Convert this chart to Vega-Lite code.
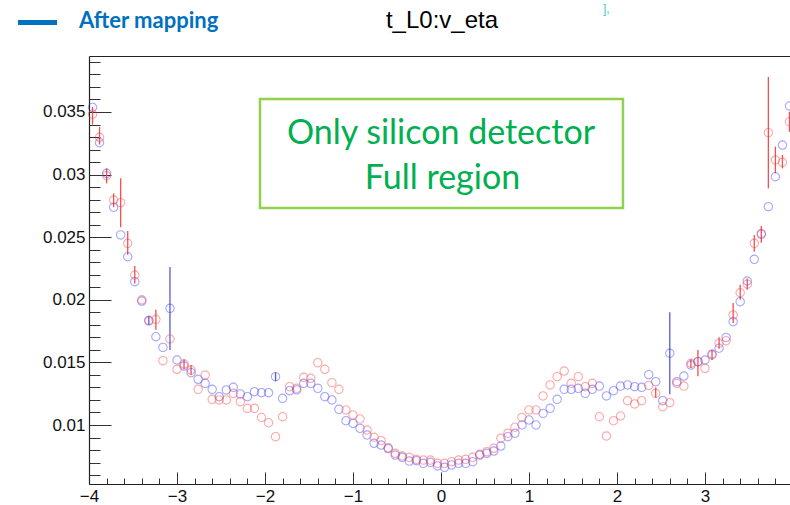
{
  "$schema": "https://vega.github.io/schema/vega-lite/v6.json",
  "width": 701,
  "height": 428,
  "autosize": {"type": "none"},
  "padding": {"left": 89, "top": 56, "right": 0, "bottom": 21},
  "background": "white",
  "config": {"view": {"stroke": null}, "font": "Liberation Sans"},
  "datasets": {
    "pts": [
      {"eta": -3.96, "series": "blue", "v": 0.03537},
      {"eta": -3.88, "series": "blue", "v": 0.03255},
      {"eta": -3.80, "series": "blue", "v": 0.03010},
      {"eta": -3.72, "series": "blue", "v": 0.02739},
      {"eta": -3.64, "series": "blue", "v": 0.02518},
      {"eta": -3.56, "series": "blue", "v": 0.02344},
      {"eta": -3.48, "series": "blue", "v": 0.02145},
      {"eta": -3.40, "series": "blue", "v": 0.01990},
      {"eta": -3.32, "series": "blue", "v": 0.01836, "lo": 0.0180, "hi": 0.0187},
      {"eta": -3.24, "series": "blue", "v": 0.01705},
      {"eta": -3.16, "series": "blue", "v": 0.01620},
      {"eta": -3.08, "series": "blue", "v": 0.01932, "lo": 0.01599, "hi": 0.02262},
      {"eta": -3.00, "series": "blue", "v": 0.01519},
      {"eta": -2.92, "series": "blue", "v": 0.01471},
      {"eta": -2.84, "series": "blue", "v": 0.01418},
      {"eta": -2.76, "series": "blue", "v": 0.01365},
      {"eta": -2.68, "series": "blue", "v": 0.01333},
      {"eta": -2.60, "series": "blue", "v": 0.01285},
      {"eta": -2.52, "series": "blue", "v": 0.01226},
      {"eta": -2.44, "series": "blue", "v": 0.01280},
      {"eta": -2.36, "series": "blue", "v": 0.01301},
      {"eta": -2.28, "series": "blue", "v": 0.01248},
      {"eta": -2.20, "series": "blue", "v": 0.01226},
      {"eta": -2.12, "series": "blue", "v": 0.01266},
      {"eta": -2.04, "series": "blue", "v": 0.01258},
      {"eta": -1.96, "series": "blue", "v": 0.01258},
      {"eta": -1.88, "series": "blue", "v": 0.01386, "lo": 0.0135, "hi": 0.0142},
      {"eta": -1.80, "series": "blue", "v": 0.01213},
      {"eta": -1.72, "series": "blue", "v": 0.01274},
      {"eta": -1.64, "series": "blue", "v": 0.01280},
      {"eta": -1.56, "series": "blue", "v": 0.01333},
      {"eta": -1.48, "series": "blue", "v": 0.01333},
      {"eta": -1.40, "series": "blue", "v": 0.01293},
      {"eta": -1.32, "series": "blue", "v": 0.01226},
      {"eta": -1.24, "series": "blue", "v": 0.01200},
      {"eta": -1.16, "series": "blue", "v": 0.01125},
      {"eta": -1.08, "series": "blue", "v": 0.01034},
      {"eta": -1.00, "series": "blue", "v": 0.01013},
      {"eta": -0.92, "series": "blue", "v": 0.00973},
      {"eta": -0.84, "series": "blue", "v": 0.00920},
      {"eta": -0.76, "series": "blue", "v": 0.00854},
      {"eta": -0.68, "series": "blue", "v": 0.00840},
      {"eta": -0.60, "series": "blue", "v": 0.00812},
      {"eta": -0.52, "series": "blue", "v": 0.00760},
      {"eta": -0.44, "series": "blue", "v": 0.00742},
      {"eta": -0.36, "series": "blue", "v": 0.00712},
      {"eta": -0.28, "series": "blue", "v": 0.00715},
      {"eta": -0.20, "series": "blue", "v": 0.00694},
      {"eta": -0.12, "series": "blue", "v": 0.00702},
      {"eta": -0.04, "series": "blue", "v": 0.00673},
      {"eta": 0.04, "series": "blue", "v": 0.00662},
      {"eta": 0.12, "series": "blue", "v": 0.00681},
      {"eta": 0.20, "series": "blue", "v": 0.00694},
      {"eta": 0.28, "series": "blue", "v": 0.00694},
      {"eta": 0.36, "series": "blue", "v": 0.00707},
      {"eta": 0.44, "series": "blue", "v": 0.00760},
      {"eta": 0.52, "series": "blue", "v": 0.00774},
      {"eta": 0.60, "series": "blue", "v": 0.00792},
      {"eta": 0.68, "series": "blue", "v": 0.00832},
      {"eta": 0.76, "series": "blue", "v": 0.00907},
      {"eta": 0.84, "series": "blue", "v": 0.00934},
      {"eta": 0.92, "series": "blue", "v": 0.01000},
      {"eta": 1.00, "series": "blue", "v": 0.01040},
      {"eta": 1.08, "series": "blue", "v": 0.01000},
      {"eta": 1.16, "series": "blue", "v": 0.01093},
      {"eta": 1.24, "series": "blue", "v": 0.01133},
      {"eta": 1.32, "series": "blue", "v": 0.01205},
      {"eta": 1.40, "series": "blue", "v": 0.01285},
      {"eta": 1.48, "series": "blue", "v": 0.01285},
      {"eta": 1.56, "series": "blue", "v": 0.01293},
      {"eta": 1.64, "series": "blue", "v": 0.01253},
      {"eta": 1.72, "series": "blue", "v": 0.01285},
      {"eta": 1.80, "series": "blue", "v": 0.01311},
      {"eta": 1.88, "series": "blue", "v": 0.01232},
      {"eta": 1.96, "series": "blue", "v": 0.01274},
      {"eta": 2.04, "series": "blue", "v": 0.01311},
      {"eta": 2.12, "series": "blue", "v": 0.01320},
      {"eta": 2.20, "series": "blue", "v": 0.01306},
      {"eta": 2.28, "series": "blue", "v": 0.01301},
      {"eta": 2.36, "series": "blue", "v": 0.01402},
      {"eta": 2.44, "series": "blue", "v": 0.01346},
      {"eta": 2.52, "series": "blue", "v": 0.01194},
      {"eta": 2.60, "series": "blue", "v": 0.01573, "lo": 0.01245, "hi": 0.0190},
      {"eta": 2.68, "series": "blue", "v": 0.01346},
      {"eta": 2.76, "series": "blue", "v": 0.01391},
      {"eta": 2.84, "series": "blue", "v": 0.01479},
      {"eta": 2.92, "series": "blue", "v": 0.01506},
      {"eta": 3.00, "series": "blue", "v": 0.01519},
      {"eta": 3.08, "series": "blue", "v": 0.01567},
      {"eta": 3.16, "series": "blue", "v": 0.01613},
      {"eta": 3.24, "series": "blue", "v": 0.01700},
      {"eta": 3.32, "series": "blue", "v": 0.01825},
      {"eta": 3.40, "series": "blue", "v": 0.01985},
      {"eta": 3.48, "series": "blue", "v": 0.02150},
      {"eta": 3.56, "series": "blue", "v": 0.02323},
      {"eta": 3.64, "series": "blue", "v": 0.02523},
      {"eta": 3.72, "series": "blue", "v": 0.02744},
      {"eta": 3.80, "series": "blue", "v": 0.02983},
      {"eta": 3.88, "series": "blue", "v": 0.03236},
      {"eta": 3.96, "series": "blue", "v": 0.03548},
      {"eta": -3.96, "series": "red", "v": 0.03482, "lo": 0.0340, "hi": 0.0354},
      {"eta": -3.88, "series": "red", "v": 0.03298, "lo": 0.0324, "hi": 0.0338},
      {"eta": -3.80, "series": "red", "v": 0.02991, "lo": 0.0293, "hi": 0.0305},
      {"eta": -3.72, "series": "red", "v": 0.02797, "lo": 0.0274, "hi": 0.0285},
      {"eta": -3.64, "series": "red", "v": 0.02776, "lo": 0.0258, "hi": 0.0297},
      {"eta": -3.56, "series": "red", "v": 0.02451, "lo": 0.0236, "hi": 0.0255},
      {"eta": -3.48, "series": "red", "v": 0.02198, "lo": 0.0213, "hi": 0.0227},
      {"eta": -3.40, "series": "red", "v": 0.02000},
      {"eta": -3.32, "series": "red", "v": 0.01830},
      {"eta": -3.24, "series": "red", "v": 0.01844, "lo": 0.0176, "hi": 0.0192},
      {"eta": -3.16, "series": "red", "v": 0.01514},
      {"eta": -3.08, "series": "red", "v": 0.01687},
      {"eta": -3.00, "series": "red", "v": 0.01445},
      {"eta": -2.92, "series": "red", "v": 0.01487, "lo": 0.01445, "hi": 0.01525},
      {"eta": -2.84, "series": "red", "v": 0.01439, "lo": 0.0140, "hi": 0.0148},
      {"eta": -2.76, "series": "red", "v": 0.01285},
      {"eta": -2.68, "series": "red", "v": 0.01399},
      {"eta": -2.60, "series": "red", "v": 0.01205},
      {"eta": -2.52, "series": "red", "v": 0.01200},
      {"eta": -2.44, "series": "red", "v": 0.01200},
      {"eta": -2.36, "series": "red", "v": 0.01253},
      {"eta": -2.28, "series": "red", "v": 0.01186},
      {"eta": -2.20, "series": "red", "v": 0.01133},
      {"eta": -2.12, "series": "red", "v": 0.01133},
      {"eta": -2.04, "series": "red", "v": 0.01061},
      {"eta": -1.96, "series": "red", "v": 0.01018},
      {"eta": -1.88, "series": "red", "v": 0.00907},
      {"eta": -1.80, "series": "red", "v": 0.01066},
      {"eta": -1.72, "series": "red", "v": 0.01306},
      {"eta": -1.64, "series": "red", "v": 0.01293},
      {"eta": -1.56, "series": "red", "v": 0.01381},
      {"eta": -1.48, "series": "red", "v": 0.01373},
      {"eta": -1.40, "series": "red", "v": 0.01498},
      {"eta": -1.32, "series": "red", "v": 0.01445},
      {"eta": -1.24, "series": "red", "v": 0.01338},
      {"eta": -1.16, "series": "red", "v": 0.01285},
      {"eta": -1.08, "series": "red", "v": 0.01120},
      {"eta": -1.00, "series": "red", "v": 0.01080},
      {"eta": -0.92, "series": "red", "v": 0.01048},
      {"eta": -0.84, "series": "red", "v": 0.00960},
      {"eta": -0.76, "series": "red", "v": 0.00902},
      {"eta": -0.68, "series": "red", "v": 0.00875},
      {"eta": -0.60, "series": "red", "v": 0.00818},
      {"eta": -0.52, "series": "red", "v": 0.00774},
      {"eta": -0.44, "series": "red", "v": 0.00752},
      {"eta": -0.36, "series": "red", "v": 0.00742},
      {"eta": -0.28, "series": "red", "v": 0.00726},
      {"eta": -0.20, "series": "red", "v": 0.00720},
      {"eta": -0.12, "series": "red", "v": 0.00720},
      {"eta": -0.04, "series": "red", "v": 0.00694},
      {"eta": 0.04, "series": "red", "v": 0.00694},
      {"eta": 0.12, "series": "red", "v": 0.00707},
      {"eta": 0.20, "series": "red", "v": 0.00720},
      {"eta": 0.28, "series": "red", "v": 0.00726},
      {"eta": 0.36, "series": "red", "v": 0.00742},
      {"eta": 0.44, "series": "red", "v": 0.00766},
      {"eta": 0.52, "series": "red", "v": 0.00787},
      {"eta": 0.60, "series": "red", "v": 0.00814},
      {"eta": 0.68, "series": "red", "v": 0.00894},
      {"eta": 0.76, "series": "red", "v": 0.00934},
      {"eta": 0.84, "series": "red", "v": 0.00982},
      {"eta": 0.92, "series": "red", "v": 0.01061},
      {"eta": 1.00, "series": "red", "v": 0.01120},
      {"eta": 1.08, "series": "red", "v": 0.01120},
      {"eta": 1.16, "series": "red", "v": 0.01232},
      {"eta": 1.24, "series": "red", "v": 0.01320},
      {"eta": 1.32, "series": "red", "v": 0.01386},
      {"eta": 1.40, "series": "red", "v": 0.01431},
      {"eta": 1.48, "series": "red", "v": 0.01333},
      {"eta": 1.56, "series": "red", "v": 0.01386},
      {"eta": 1.64, "series": "red", "v": 0.01306},
      {"eta": 1.72, "series": "red", "v": 0.01333},
      {"eta": 1.80, "series": "red", "v": 0.01066},
      {"eta": 1.88, "series": "red", "v": 0.00912},
      {"eta": 1.96, "series": "red", "v": 0.01034},
      {"eta": 2.04, "series": "red", "v": 0.01072},
      {"eta": 2.12, "series": "red", "v": 0.01194},
      {"eta": 2.20, "series": "red", "v": 0.01168},
      {"eta": 2.28, "series": "red", "v": 0.01194},
      {"eta": 2.36, "series": "red", "v": 0.01316},
      {"eta": 2.44, "series": "red", "v": 0.01253, "lo": 0.0122, "hi": 0.0130},
      {"eta": 2.52, "series": "red", "v": 0.01146},
      {"eta": 2.60, "series": "red", "v": 0.01178},
      {"eta": 2.68, "series": "red", "v": 0.01333},
      {"eta": 2.76, "series": "red", "v": 0.01311},
      {"eta": 2.84, "series": "red", "v": 0.01493, "lo": 0.01455, "hi": 0.01525},
      {"eta": 2.92, "series": "red", "v": 0.01506, "lo": 0.0139, "hi": 0.0160},
      {"eta": 3.00, "series": "red", "v": 0.01453},
      {"eta": 3.08, "series": "red", "v": 0.01559, "lo": 0.0152, "hi": 0.0160},
      {"eta": 3.16, "series": "red", "v": 0.01653, "lo": 0.0161, "hi": 0.0170},
      {"eta": 3.24, "series": "red", "v": 0.01673},
      {"eta": 3.32, "series": "red", "v": 0.01879, "lo": 0.01815, "hi": 0.01974},
      {"eta": 3.40, "series": "red", "v": 0.02057, "lo": 0.0200, "hi": 0.0212},
      {"eta": 3.48, "series": "red", "v": 0.02125, "lo": 0.0208, "hi": 0.0217},
      {"eta": 3.56, "series": "red", "v": 0.02451, "lo": 0.02384, "hi": 0.02518},
      {"eta": 3.64, "series": "red", "v": 0.02530, "lo": 0.02456, "hi": 0.0259},
      {"eta": 3.72, "series": "red", "v": 0.03335, "lo": 0.0289, "hi": 0.0378},
      {"eta": 3.80, "series": "red", "v": 0.03117, "lo": 0.0301, "hi": 0.03223},
      {"eta": 3.88, "series": "red", "v": 0.03098, "lo": 0.0305, "hi": 0.03157},
      {"eta": 3.96, "series": "red", "v": 0.03422, "lo": 0.03343, "hi": 0.03502}
    ]
  },
  "resolve": {"axis": {"x": "independent", "y": "independent"}},
  "layer": [
    {
      "data": {"name": "pts"},
      "transform": [{"filter": "isValid(datum.lo)"}],
      "mark": {"type": "rule", "strokeWidth": 1.3},
      "encoding": {
        "x": {
          "field": "eta", "type": "quantitative",
          "scale": {"domain": [-4, 3.966], "nice": false, "zero": false},
          "axis": {"orient": "bottom", "values": [-3.8,-3.6,-3.4,-3.2,-2.8,-2.6,-2.4,-2.2,-1.8,-1.6,-1.4,-1.2,-0.8,-0.6,-0.4,-0.2,0.2,0.4,0.6,0.8,1.2,1.4,1.6,1.8,2.2,2.4,2.6,2.8,3.2,3.4,3.6,3.8],
                   "labels": false, "domain": false, "grid": false, "title": null, "tickSize": -6, "tickColor": "#333333", "tickWidth": 1}
        },
        "y": {
          "field": "lo", "type": "quantitative",
          "scale": {"domain": [0.005288, 0.039472], "nice": false, "zero": false},
          "axis": {"orient": "left", "values": [0.006,0.007,0.008,0.009,0.011,0.012,0.013,0.014,0.016,0.017,0.018,0.019,0.021,0.022,0.023,0.024,0.026,0.027,0.028,0.029,0.031,0.032,0.033,0.034,0.036,0.037,0.038,0.039],
                   "labels": false, "domain": false, "grid": false, "title": null, "tickSize": -11, "tickColor": "#333333", "tickWidth": 1}
        },
        "y2": {"field": "hi"},
        "color": {"field": "series", "type": "nominal", "scale": {"domain": ["blue", "red"], "range": ["#5a5ad2", "#f05050"]}, "legend": null}
      }
    },
    {
      "data": {"name": "pts"},
      "mark": {"type": "point", "shape": "circle", "filled": false, "size": 70, "strokeWidth": 1.1, "strokeOpacity": 0.62},
      "encoding": {
        "x": {
          "field": "eta", "type": "quantitative",
          "scale": {"domain": [-4, 3.966], "nice": false, "zero": false},
          "axis": {"orient": "bottom", "values": [-4,-3,-2,-1,0,1,2,3,4], "format": "d",
                   "tickSize": -12, "tickColor": "#333333", "tickWidth": 1,
                   "domain": true, "domainColor": "#222222", "domainWidth": 1.2,
                   "labelFont": "Liberation Sans", "labelFontSize": 17, "labelColor": "#111111",
                   "labelPadding": 16, "labelFlush": false, "labelOverlap": false, "labelBound": false,
                   "grid": false, "title": null}
        },
        "y": {
          "field": "v", "type": "quantitative",
          "scale": {"domain": [0.005288, 0.039472], "nice": false, "zero": false},
          "axis": {"orient": "left", "values": [0.01,0.015,0.02,0.025,0.03,0.035], "format": ".3~f",
                   "tickSize": -22, "tickColor": "#333333", "tickWidth": 1,
                   "domain": true, "domainColor": "#222222", "domainWidth": 1.2,
                   "labelFont": "Liberation Sans", "labelFontSize": 17, "labelColor": "#111111",
                   "labelPadding": 26, "labelOverlap": false, "labelFlush": false,
                   "grid": false, "title": null}
        },
        "stroke": {"field": "series", "type": "nominal", "scale": {"domain": ["blue", "red"], "range": ["#3535ff", "#ff3a3a"]}, "legend": null}
      }
    },
    {
      "data": {"values": [{"label": "box"}]},
      "mark": {"type": "rect", "filled": false, "stroke": "#92D050", "strokeWidth": 2.5},
      "encoding": {
        "x": {"datum": -2.057, "type": "quantitative",
              "axis": {"orient": "top", "ticks": false, "labels": false, "domain": true, "domainColor": "#222222", "domainWidth": 1.2, "grid": false, "title": null}},
        "x2": {"datum": 2.068},
        "y": {"datum": 0.036038, "type": "quantitative", "axis": null},
        "y2": {"datum": 0.027332}
      }
    },
    {
      "data": {"values": [{"label": "Only silicon detector"}]},
      "mark": {"type": "text", "font": "Lato", "fontSize": 34, "color": "#00B050", "align": "center", "baseline": "alphabetic"},
      "encoding": {
        "x": {"datum": 0.0, "type": "quantitative", "axis": null},
        "y": {"datum": 0.032404, "type": "quantitative", "axis": null},
        "text": {"field": "label"}
      }
    },
    {
      "data": {"values": [{"label": "Full region"}]},
      "mark": {"type": "text", "font": "Lato", "fontSize": 34, "color": "#00B050", "align": "center", "baseline": "alphabetic"},
      "encoding": {
        "x": {"datum": 0.017, "type": "quantitative", "axis": null},
        "y": {"datum": 0.028873, "type": "quantitative", "axis": null},
        "text": {"field": "label"}
      }
    },
    {
      "data": {"values": [{"label": "t_L0:v_eta"}]},
      "mark": {"type": "text", "font": "Liberation Sans", "fontSize": 24, "color": "#000000", "align": "center", "baseline": "alphabetic"},
      "encoding": {
        "x": {"datum": 0.0114, "type": "quantitative", "axis": null},
        "y": {"datum": 0.041684, "type": "quantitative", "axis": null},
        "text": {"field": "label"}
      }
    },
    {
      "data": {"values": [{"label": "After mapping"}]},
      "mark": {"type": "text", "font": "Lato", "fontWeight": "bold", "fontSize": 22, "color": "#0070C0", "align": "left", "baseline": "alphabetic"},
      "encoding": {
        "x": {"datum": -4.1136, "type": "quantitative", "axis": null},
        "y": {"datum": 0.041684, "type": "quantitative", "axis": null},
        "text": {"field": "label"}
      }
    },
    {
      "data": {"values": [{"label": "After mapping"}]},
      "mark": {"type": "rule", "color": "#0070C0", "strokeWidth": 5},
      "encoding": {
        "x": {"datum": -4.8068, "type": "quantitative", "axis": null},
        "x2": {"datum": -4.3636},
        "y": {"datum": 0.042148, "type": "quantitative", "axis": null}
      }
    },
    {
      "data": {"values": [{"label": "],"}]},
      "mark": {"type": "text", "font": "Liberation Sans", "fontSize": 12, "color": "#40c8d0", "align": "left", "baseline": "alphabetic"},
      "encoding": {
        "x": {"datum": 1.8409, "type": "quantitative", "axis": null},
        "y": {"datum": 0.042906, "type": "quantitative", "axis": null},
        "text": {"field": "label"}
      }
    }
  ]
}
